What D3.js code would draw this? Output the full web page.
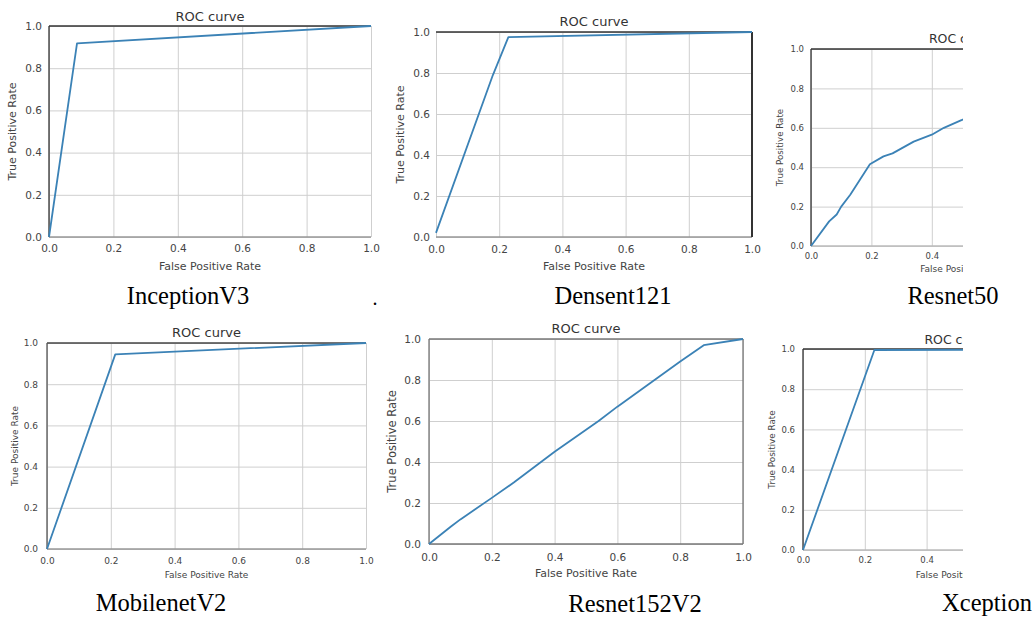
<!DOCTYPE html>
<html>
<head>
<meta charset="utf-8">
<script src="https://cdn.jsdelivr.net/npm/d3@7"></script>
<style>
	body { margin:0; background:#fff; }
	svg { display:block; }
	.tick text { fill:#444; font-family:"DejaVu Sans", sans-serif; }
	.grid line { stroke:#cfcfcf; stroke-width:1; }
	.grid .domain { display:none; }
	.lbl { fill:#444; font-family:"DejaVu Sans", sans-serif; }
	.ttl { fill:#333; font-family:"DejaVu Sans", sans-serif; }
	.caption { fill:#000; font-family:"Liberation Serif", "Times New Roman", serif; }
</style>
</head>
<body>
<div id="chart"></div>
<script>
// six roc panels

var models = ['InceptionV3','Densent121','Resnet50','MobilenetV2','Resnet152V2','Xception']

var tickValues = [0, 0.2, 0.4, 0.6, 0.8, 1.0]
var tickLabels = ['0.0','0.2','0.4','0.6','0.8','1.0']

var fprInception = [0, 0.087, 1]
var tprInception = [0, 0.918, 1]

var fprDense = [0, 0.18, 0.229, 1]
var tprDense = [0.02, 0.79, 0.975, 1]

var fprResnet50 = [0, 0.06, 0.085, 0.1, 0.13, 0.195, 0.24, 0.27, 0.34, 0.4, 0.44, 0.5, 1]
var tprResnet50 = [0, 0.125, 0.16, 0.2, 0.26, 0.415, 0.455, 0.47, 0.53, 0.565, 0.6, 0.64, 1]

var fprMobile = [0, 0.214, 1]
var tprMobile = [0, 0.945, 1]

var fprResnet152 = [0, 0.07, 0.1, 0.2, 0.27, 0.4, 0.54, 0.6, 0.8, 0.875, 1]
var tprResnet152 = [0, 0.085, 0.12, 0.225, 0.3, 0.45, 0.6, 0.67, 0.89, 0.97, 1]

var fprXception = [0, 0.231, 1]
var tprXception = [0, 0.995, 0.998]

var curves = [
	[fprInception, tprInception],
	[fprDense, tprDense],
	[fprResnet50, tprResnet50],
	[fprMobile, tprMobile],
	[fprResnet152, tprResnet152],
	[fprXception, tprXception]
]

/*where each panel sits in the 1035x618 picture*/
var layout = [
	{l:49, r:371, t:26, b:237, tick:10.5, lab:11, ylab:11, title:13, titleY:21, tickY:252, xlabY:270, ylabX:12, pad:7, capX:188, capY:304,
		spines:{top:'#333', left:'#333', bottom:'#999', right:null}},
	{l:436, r:752, t:32, b:237, tick:10.5, lab:11, ylab:11, title:13, titleY:26, tickY:253, xlabY:270, ylabX:400, pad:6, capX:613, capY:304,
		spines:{top:'#333', left:null, bottom:'#999', right:'#333'}},
	{l:811, r:1113, t:49, b:246, tick:8.5, lab:9, ylab:8.7, title:12.5, titleY:43, tickY:259, xlabY:272, ylabX:780, pad:7, capX:953, capY:304, clip:963,
		spines:{top:'#333', left:'#333', bottom:'#bbb', right:null}},
	{l:47, r:366, t:343, b:549, tick:9, lab:9, ylab:9, title:13, titleY:337, tickY:564, xlabY:578, ylabX:15, pad:9, capX:161, capY:611,
		spines:{top:'#444', left:'#555', bottom:'#999', right:null}},
	{l:429, r:743, t:339, b:544, tick:10.5, lab:11, ylab:11.5, title:13, titleY:333, tickY:561, xlabY:577, ylabX:392, pad:8, capX:635, capY:612,
		spines:{top:'#777', left:'#777', bottom:'#777', right:'#777'}},
	{l:803, r:1112, t:349, b:550, tick:8.5, lab:9, ylab:8.8, title:12.5, titleY:344, tickY:563, xlabY:578, ylabX:772, pad:8, capX:987, capY:611, clip:963,
		spines:{top:'#333', left:'#333', bottom:'#bbb', right:null}}
]

var init = function(domelement) {
	var svg = d3.select(domelement).append('svg')
		.attr('width', 1035)
		.attr('height', 618)

	var defs = svg.append('defs')

	models.forEach(function(name, i) {
		var s = layout[i]
		var pts = curves[i][0].map(function(x, j) {
			return [x, curves[i][1][j]]
		})

		var x = d3.scaleLinear().domain([0, 1]).range([s.l, s.r])
		var y = d3.scaleLinear().domain([0, 1]).range([s.b, s.t])

		var panel = svg.append('g').attr('class', 'panel')

		if (s.clip) {
			defs.append('clipPath').attr('id', 'clip' + i)
				.append('rect')
				.attr('x', s.l - 80).attr('y', s.t - 40)
				.attr('width', s.clip - (s.l - 80)).attr('height', 300)
			panel.attr('clip-path', 'url(#clip' + i + ')')
		}

		// grid via the axes
		var gx = panel.append('g').attr('class', 'grid')
			.attr('transform', 'translate(0,' + s.b + ')')
			.call(d3.axisBottom(x)
				.tickValues(tickValues)
				.tickFormat(function(d, k) { return tickLabels[k] })
				.tickSize(-(s.b - s.t))
				.tickPadding(s.tickY - s.b - s.tick * 0.75))
		gx.selectAll('text').style('font-size', s.tick + 'px').attr('dy', '0.71em')

		// tick labels beyond the cropped edge are not in the picture
		if (s.clip) {
			gx.selectAll('.tick').filter(function(d) { return x(d) > s.clip })
				.select('text').remove()
		}

		var gy = panel.append('g').attr('class', 'grid')
			.attr('transform', 'translate(' + s.l + ',0)')
			.call(d3.axisLeft(y)
				.tickValues(tickValues)
				.tickFormat(function(d, k) { return tickLabels[k] })
				.tickSize(-(s.r - s.l))
				.tickPadding(s.pad))
		gy.selectAll('text').style('font-size', s.tick + 'px')

		// spines
		var sp = s.spines
		var edges = {
			top: [s.l, s.t, s.r, s.t],
			bottom: [s.l, s.b, s.r, s.b],
			left: [s.l, s.t, s.l, s.b],
			right: [s.r, s.t, s.r, s.b]
		}
		for (var side in edges) {
			if (!sp[side]) { continue }
			var e = edges[side]
			panel.append('line')
				.attr('x1', e[0]).attr('y1', e[1])
				.attr('x2', e[2]).attr('y2', e[3])
				.attr('stroke', sp[side])
				.attr('stroke-width', (side === 'right' && i === 1) ? 2 : 1.3)
		}

		panel.append('path')
			.datum(pts)
			.attr('fill', 'none')
			.attr('stroke', '#3b82b6')
			.attr('stroke-width', 1.8)
			.attr('stroke-linejoin', 'round')
			.attr('d', d3.line()
				.x(function(d) { return x(d[0]) })
				.y(function(d) { return y(d[1]) }))

		panel.append('text').attr('class', 'ttl')
			.attr('x', (s.l + s.r) / 2).attr('y', s.titleY)
			.attr('text-anchor', 'middle')
			.style('font-size', s.title + 'px')
			.text('ROC curve')

		panel.append('text').attr('class', 'lbl')
			.attr('x', (s.l + s.r) / 2).attr('y', s.xlabY)
			.attr('text-anchor', 'middle')
			.style('font-size', s.lab + 'px')
			.text('False Positive Rate')

		panel.append('text').attr('class', 'lbl')
			.attr('transform', 'translate(' + s.ylabX + ',' + ((s.t + s.b) / 2) + ') rotate(-90)')
			.attr('text-anchor', 'middle')
			.attr('dy', '0.35em')
			.style('font-size', s.ylab + 'px')
			.text('True Positive Rate')

		svg.append('text').attr('class', 'caption')
			.attr('x', s.capX).attr('y', s.capY)
			.attr('text-anchor', 'middle')
			.style('font-size', '24.5px')
			.text(name)
	})

	// stray full stop left of the first row caption
	svg.append('text').attr('class', 'caption')
		.attr('x', 375).attr('y', 305)
		.attr('text-anchor', 'middle')
		.style('font-size', '20px')
		.text('.')
}

init('#chart')
</script>
</body>
</html>
